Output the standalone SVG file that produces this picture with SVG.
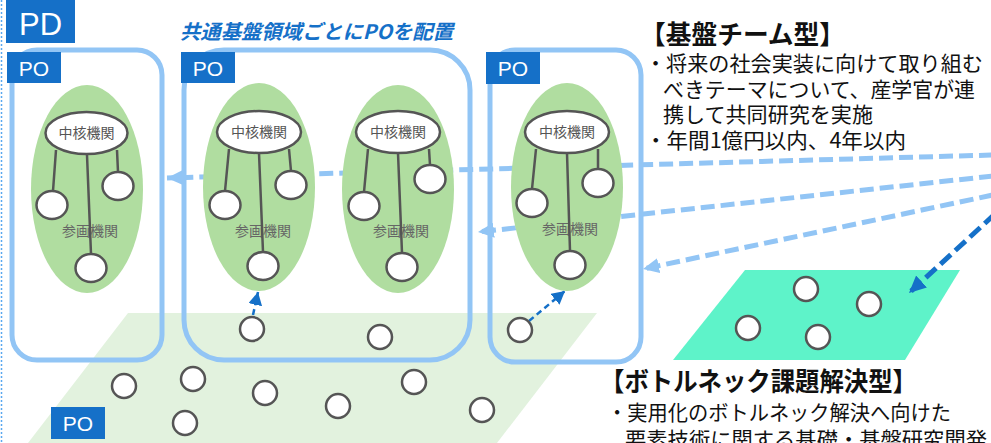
<svg xmlns="http://www.w3.org/2000/svg" width="991" height="443" viewBox="0 0 991 443">
<style>
.jp{font-family:"Noto Sans CJK JP","Noto Sans",sans-serif}
.lbl{font-family:"Liberation Sans","Noto Sans",sans-serif;fill:#fff}
.frame{fill:none;stroke:#92C5F5;stroke-width:5}
.grp{fill:#B0DDA0}
.node{fill:#fff;stroke:#555;stroke-width:2.5}
.link{stroke:#555;stroke-width:2.5;fill:none}
.core{font-size:14px;fill:#555;text-anchor:middle}
.part{font-size:14px;fill:#666;text-anchor:middle}
.lb{fill:none;stroke:#92C5F5;stroke-width:5;stroke-dasharray:14 6}
.db{fill:none;stroke:#1570C8;stroke-width:5;stroke-dasharray:14 6}
.ds{fill:none;stroke:#1570C8;stroke-width:2.5;stroke-dasharray:6 4}
.body{font-size:21px;fill:#111}
.head{font-size:26px;font-weight:bold;fill:#111}
.po{fill:#1570C8}
</style>
<defs>
<marker id="ahL" markerUnits="userSpaceOnUse" markerWidth="17" markerHeight="17" refX="16" refY="8.5" orient="auto">
<path d="M0,1 L16,8.5 L0,16 Z" fill="#92C5F5"/>
</marker>
<marker id="ahD" markerUnits="userSpaceOnUse" markerWidth="18" markerHeight="18" refX="17" refY="9" orient="auto">
<path d="M0,1 L17,9 L0,17 Z" fill="#1570C8"/>
</marker>
<marker id="ahS" markerUnits="userSpaceOnUse" markerWidth="14" markerHeight="14" refX="13" refY="7" orient="auto">
<path d="M0,0 L13,7 L0,14 Z" fill="#1570C8"/>
</marker>
</defs>
<rect width="991" height="443" fill="#fff"/>
<line x1="1.5" y1="0" x2="1.5" y2="443" stroke="#5AA8F0" stroke-width="1.5" stroke-dasharray="2 2"/>

<g id="plane-bottleneck-areas">
<polygon points="128,313 597,313 497,443 28,443" fill="#E2F2DE"/>
</g>
<g id="plane-bottleneck">
<polygon points="745,270 960,270 905,360 673,360" fill="#5EF3C9"/>
</g>

<g id="connectors">
<path class="lb" d="M993,155 L167,178" marker-end="url(#ahL)"/>
<path class="lb" d="M993,176 L478,232" marker-end="url(#ahL)"/>
<path class="lb" d="M993,195 L643,269" marker-end="url(#ahL)"/>
<path class="db" d="M995,214 L909,293" marker-end="url(#ahD)"/>
<path class="ds" d="M253,315 L258,292" marker-end="url(#ahS)"/>
<path class="ds" d="M529,321 L565,291" marker-end="url(#ahS)"/>
</g>

<g id="frame1"><rect class="frame" x="12" y="50" width="150" height="310" rx="25"/></g>
<g id="frame2"><rect class="frame" x="184" y="50" width="286" height="310" rx="40"/></g>
<g id="frame3"><rect class="frame" x="490" y="50" width="151" height="312" rx="25"/></g>

<g id="team1">
<ellipse class="grp" cx="87" cy="189" rx="56" ry="104"/>
<text class="jp part" x="90" y="236">参画機関</text>
<path class="link" d="M56,150 L53,191 M87,155 L91,254 M117,150 L118,172"/>
<ellipse class="node" cx="86.5" cy="133" rx="41" ry="21"/>
<text class="jp core" x="86.5" y="138">中核機関</text>
<ellipse class="node" cx="52" cy="205" rx="15.5" ry="14"/>
<ellipse class="node" cx="118" cy="186" rx="15.5" ry="14"/>
<ellipse class="node" cx="91" cy="268" rx="15.5" ry="14"/>
</g>
<g id="team2">
<ellipse class="grp" cx="259" cy="187" rx="56" ry="104"/>
<text class="jp part" x="263" y="236">参画機関</text>
<path class="link" d="M229,149 L225,191 M259,153 L263,252 M289,149 L291,171"/>
<ellipse class="node" cx="259" cy="132" rx="42" ry="21"/>
<text class="jp core" x="259" y="137">中核機関</text>
<ellipse class="node" cx="225" cy="205" rx="15.5" ry="14"/>
<ellipse class="node" cx="291" cy="185" rx="15.5" ry="14"/>
<ellipse class="node" cx="263" cy="266" rx="15.5" ry="14"/>
</g>
<g id="team3">
<ellipse class="grp" cx="398" cy="189" rx="56" ry="104"/>
<text class="jp part" x="401" y="236">参画機関</text>
<path class="link" d="M368,149 L364,192 M398,153 L402,253 M429,149 L430,165"/>
<ellipse class="node" cx="398" cy="132" rx="42" ry="21"/>
<text class="jp core" x="398" y="137">中核機関</text>
<ellipse class="node" cx="364" cy="206" rx="15.5" ry="14"/>
<ellipse class="node" cx="430" cy="179" rx="15.5" ry="14"/>
<ellipse class="node" cx="402" cy="267" rx="15.5" ry="14"/>
</g>
<g id="team4">
<ellipse class="grp" cx="567" cy="187" rx="56" ry="104"/>
<text class="jp part" x="570" y="234">参画機関</text>
<path class="link" d="M536,149 L532,189 M567,153 L570,251 M598,149 L598,169"/>
<ellipse class="node" cx="567" cy="132" rx="42" ry="21"/>
<text class="jp core" x="567" y="137">中核機関</text>
<ellipse class="node" cx="532" cy="203" rx="15.5" ry="14"/>
<ellipse class="node" cx="598" cy="183" rx="15.5" ry="14"/>
<ellipse class="node" cx="570" cy="265" rx="15.5" ry="14"/>
</g>

<g id="bottleneck-nodes">
<circle class="node" cx="252" cy="329" r="12"/>
<circle class="node" cx="380" cy="337" r="12"/>
<circle class="node" cx="520" cy="330" r="12"/>
<circle class="node" cx="124" cy="386" r="12"/>
<circle class="node" cx="193" cy="379" r="12"/>
<circle class="node" cx="265" cy="393" r="12"/>
<circle class="node" cx="338" cy="406" r="12"/>
<circle class="node" cx="414" cy="382" r="12"/>
<circle class="node" cx="482" cy="410" r="12"/>
<circle class="node" cx="185" cy="423" r="12"/>
</g>
<g id="teal-nodes">
<circle class="node" cx="806" cy="289" r="12"/>
<circle class="node" cx="869" cy="304" r="12"/>
<circle class="node" cx="748" cy="328" r="12"/>
<circle class="node" cx="818" cy="337" r="12"/>
</g>

<g id="pd">
<rect class="po" x="6" y="0" width="69" height="43"/>
<text class="lbl" x="40.5" y="35" font-size="31" text-anchor="middle">PD</text>
</g>
<g id="po1">
<rect class="po" x="7" y="52" width="54" height="31"/>
<text class="lbl" x="34" y="76" font-size="21" text-anchor="middle">PO</text>
</g>
<g id="po2">
<rect class="po" x="181" y="52" width="54" height="31"/>
<text class="lbl" x="208" y="76" font-size="21" text-anchor="middle">PO</text>
</g>
<g id="po3">
<rect class="po" x="486" y="52" width="54" height="32"/>
<text class="lbl" x="513" y="76" font-size="21" text-anchor="middle">PO</text>
</g>
<g id="po4">
<rect class="po" x="51" y="407" width="54" height="32"/>
<text class="lbl" x="78" y="431" font-size="21" text-anchor="middle">PO</text>
</g>

<g id="title">
<text class="jp" x="180" y="39" font-size="20" font-weight="bold" font-style="italic" fill="#1570C8" textLength="273" lengthAdjust="spacingAndGlyphs">共通基盤領域ごとにPOを配置</text>
</g>

<g id="kiban-text">
<text class="jp head" x="640" y="44" textLength="205" lengthAdjust="spacingAndGlyphs">【基盤チーム型】</text>
<text class="jp body" x="645" y="71" textLength="338" lengthAdjust="spacingAndGlyphs">・将来の社会実装に向けて取り組む</text>
<text class="jp body" x="663" y="97" textLength="312" lengthAdjust="spacingAndGlyphs">べきテーマについて、産学官が連</text>
<text class="jp body" x="663" y="122" textLength="210" lengthAdjust="spacingAndGlyphs">携して共同研究を実施</text>
<text class="jp body" x="645" y="148" textLength="261" lengthAdjust="spacingAndGlyphs">・年間1億円以内、4年以内</text>
</g>

<g id="bottleneck-text">
<text class="jp head" x="600" y="391" textLength="317" lengthAdjust="spacingAndGlyphs">【ボトルネック課題解決型】</text>
<text class="jp body" x="607" y="420" textLength="344" lengthAdjust="spacingAndGlyphs">・実用化のボトルネック解決へ向けた</text>
<text class="jp body" x="625" y="447" textLength="362" lengthAdjust="spacingAndGlyphs">要素技術に関する基礎・基盤研究開発</text>
</g>
</svg>
